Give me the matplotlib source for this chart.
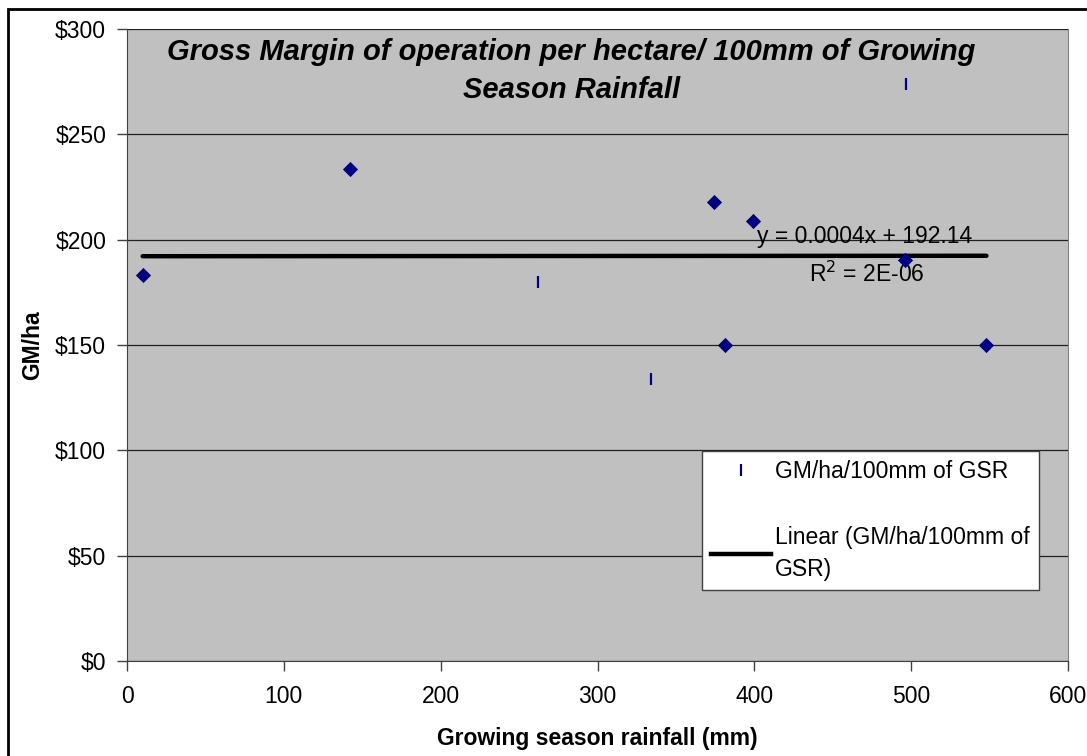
import matplotlib
matplotlib.use("Agg")
import matplotlib.pyplot as plt
from matplotlib.lines import Line2D
from matplotlib.patches import Rectangle
import numpy as np

plt.rcParams['font.family'] = ['Liberation Sans', 'DejaVu Sans']

# Data
rainfall = [10, 142, 262, 334, 374, 381, 399, 496, 497, 548]
gm_per_ha = [183, 233.5, 180, 134, 218, 150, 209, 190.5, 274, 150]
tick_marked = [False, False, True, True, False, False, False, False, True, False]

slope = 0.0004
intercept = 192.14
series_name = "GM/ha/100mm of GSR"
title = "Gross Margin of operation per hectare/ 100mm of Growing\nSeason Rainfall"
x_ticks = [0, 100, 200, 300, 400, 500, 600]
y_ticks = [0, 50, 100, 150, 200, 250, 300]

fig = plt.figure(figsize=(10.87, 7.56), dpi=100)
ax = fig.add_axes([127/1087, 1-661/756, (1068-127)/1087, (661-29)/756])
ax.set_facecolor('#C0C0C0')

xs = np.array(rainfall)
ys = np.array(gm_per_ha)
tm = np.array(tick_marked)
ax.scatter(xs[~tm], ys[~tm], marker='D', s=60, color='#000080', zorder=4, linewidths=0)
ax.scatter(xs[tm], ys[tm], marker='|', s=80, color='#000080', zorder=4, linewidths=1.6)

xl = np.array([min(rainfall), max(rainfall)])
ax.plot(xl, slope*xl + intercept, color='black', lw=3.2, zorder=3, solid_capstyle='round')

FS = 16.5
ax.set_xlim(0, 600)
ax.set_ylim(0, 300)
ax.set_xticks(x_ticks)
ax.set_yticks(y_ticks)
ax.set_xticklabels([str(v) for v in x_ticks], fontsize=FS)
ax.set_yticklabels([f"${v}" for v in y_ticks], fontsize=FS)
ax.tick_params(direction='out', length=7, width=1, color='#404040')
ax.tick_params(axis='x', pad=10)
ax.tick_params(axis='y', pad=8)
ax.yaxis.grid(True, color='#202020', lw=0.9)
ax.set_axisbelow(True)
for s in ['left', 'bottom']:
    ax.spines[s].set_color('#404040')
for s in ['right', 'top']:
    ax.spines[s].set_color('#808080')
ax.spines['top'].set_visible(False)

ax.set_xlabel("Growing season rainfall (mm)", fontsize=FS, fontweight='bold', labelpad=14)
ax.set_ylabel("GM/ha", fontsize=FS, fontweight='bold', labelpad=8)

ax.text(0.472, 0.985, title, transform=ax.transAxes, ha='center', va='top',
        fontsize=21, fontweight='bold', fontstyle='italic', linespacing=1.42)

ax.text(0.784, 0.671, "y = 0.0004x + 192.14", transform=ax.transAxes, ha='center',
        va='center', fontsize=FS)
ax.text(0.786, 0.612, r"R$^2$ = 2E-06", transform=ax.transAxes, ha='center',
        va='center', fontsize=FS)

# Legend
handles = [Line2D([], [], marker='|', color='#000080', ls='none', markersize=8, markeredgewidth=1.6),
           Line2D([], [], color='black', lw=3.2)]
labels = [series_name, "Linear (GM/ha/100mm of\nGSR)"]
leg = ax.legend(handles, labels, loc='upper left', bbox_to_anchor=((702-127)/941, 1-(451-29)/632),
                fontsize=FS, frameon=True, fancybox=False, edgecolor='#404040',
                facecolor='white', framealpha=1, borderpad=0.4, labelspacing=1.85,
                handlelength=2.6, handletextpad=0.2, borderaxespad=0)
for t in leg.get_texts():
    t.set_linespacing(1.5)
leg.get_frame().set_linewidth(1)

fig.patches.append(Rectangle((8/1087, -0.1), 1.2, 1-9/756+0.1, transform=fig.transFigure,
                             fill=False, edgecolor='black', lw=2))

fig.savefig("out.png", dpi=100)
